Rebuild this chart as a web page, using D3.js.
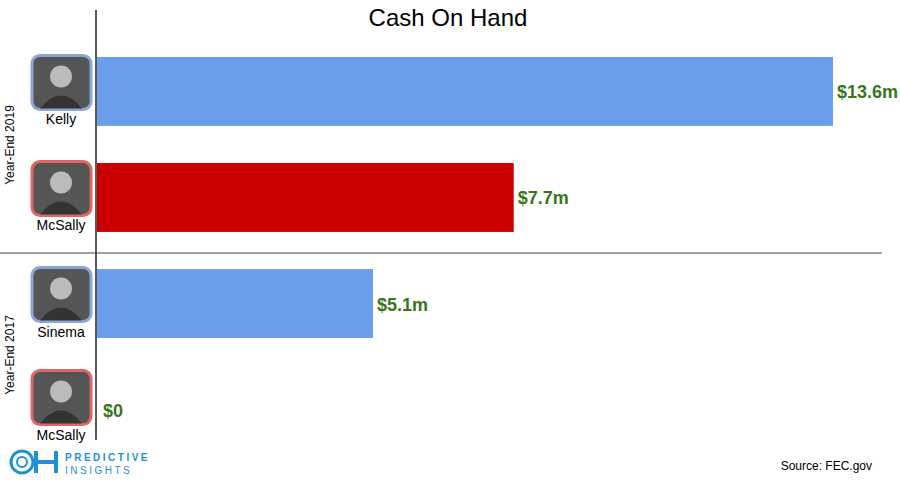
<!DOCTYPE html>
<html><head><meta charset="utf-8">
<script src="https://cdn.jsdelivr.net/npm/d3@7"></script>
<style>body{margin:0;background:#fff}svg{font-family:Arial,"Liberation Sans",sans-serif}</style>
</head><body><svg id="c"></svg>
<script>
const names = ['Kelly', 'McSally', 'Sinema', 'McSally ']
const values = [13.6, 7.7, 5.1, 0]
const labels = ['$13.6m', '$7.7m', '$5.1m', '$0']
const party = ['D', 'R', 'D', 'R']
const groups = ['Year-End 2019', 'Year-End 2017']

const W = 900, H = 481
const svg = d3.select('#c').attr('width', W).attr('height', H)
const fill = {D: '#6d9eeb', R: '#cc0000'}
const border = {D: '#8aa5d6', R: '#e06666'}

const x = d3.scaleLinear().domain([0, 13.6]).range([97, 833])
const y = d3.scaleBand().domain(names).range([57, 444]).paddingInner(0.35).paddingOuter(0)

svg.append('text').attr('x', 448).attr('y', 26).attr('text-anchor', 'middle')
    .attr('font-size', 24).text('Cash On Hand')

svg.selectAll('rect.bar').data(names).enter().append('rect').attr('class', 'bar')
    .attr('x', x(0)).attr('y', d => y(d)).attr('height', y.bandwidth())
    .attr('width', (d, i) => x(values[i]) - x(0))
    .attr('fill', (d, i) => fill[party[i]])

svg.selectAll('text.val').data(names).enter().append('text').attr('class', 'val')
    .attr('x', (d, i) => x(values[i]) + (values[i] > 0 ? 4 : 6))
    .attr('y', d => y(d) + y.bandwidth() / 2 + 7)
    .attr('font-size', 18).attr('font-weight', 'bold').attr('fill', '#38761d')
    .text((d, i) => labels[i])

// photo placeholders
names.forEach((d, i) => {
    const cy = y(d) + y.bandwidth() / 2 - (i === 3 ? 12 : 9)
    svg.append('rect').attr('x', 32).attr('y', cy - 27).attr('width', 59).attr('height', 54)
        .attr('rx', 8).attr('fill', '#555').attr('stroke', border[party[i]]).attr('stroke-width', 3)
    svg.append('circle').attr('cx', 61).attr('cy', cy - 6).attr('r', 11).attr('fill', '#bbb')
    svg.append('path').attr('d', `M40 ${cy + 26} Q61 ${cy} 82 ${cy + 26} Z`).attr('fill', '#333')
    svg.append('text').attr('x', 61).attr('y', cy + 42).attr('text-anchor', 'middle')
        .attr('font-size', 14).text(d.trim())
})

svg.append('line').attr('x1', 96).attr('x2', 96).attr('y1', 10).attr('y2', 440).attr('stroke', '#222').attr('stroke-width', 1.5)
svg.append('line').attr('x1', 0).attr('x2', 882).attr('y1', 253).attr('y2', 253).attr('stroke', '#444').attr('stroke-width', 1)

groups.forEach((g, i) => {
    const cy = i === 0 ? 145 : 355
    svg.append('text').attr('transform', `translate(14,${cy}) rotate(-90)`).attr('text-anchor', 'middle')
        .attr('font-size', 12).text(g)
})

// logo
const lg = svg.append('g').attr('transform', 'translate(10,449)')
lg.append('circle').attr('cx', 12).attr('cy', 13).attr('r', 11).attr('fill', 'none').attr('stroke', '#1e90d6').attr('stroke-width', 3)
lg.append('circle').attr('cx', 12).attr('cy', 13).attr('r', 5).attr('fill', 'none').attr('stroke', '#1e90d6').attr('stroke-width', 2)
lg.append('path').attr('d', 'M26 2 V24 M46 2 V24 M26 13 H46').attr('stroke', '#1e90d6').attr('stroke-width', 4).attr('fill', 'none')
lg.append('text').attr('x', 55).attr('y', 12).attr('font-size', 10).attr('font-weight', 'bold').attr('letter-spacing', 2.5).attr('fill', '#1e90d6').text('PREDICTIVE')
lg.append('text').attr('x', 55).attr('y', 25).attr('font-size', 10).attr('letter-spacing', 2.5).attr('fill', '#1e90d6').text('INSIGHTS')

svg.append('text').attr('x', 872).attr('y', 470).attr('text-anchor', 'end').attr('font-size', 12).text('Source: FEC.gov')
</script></body></html>
